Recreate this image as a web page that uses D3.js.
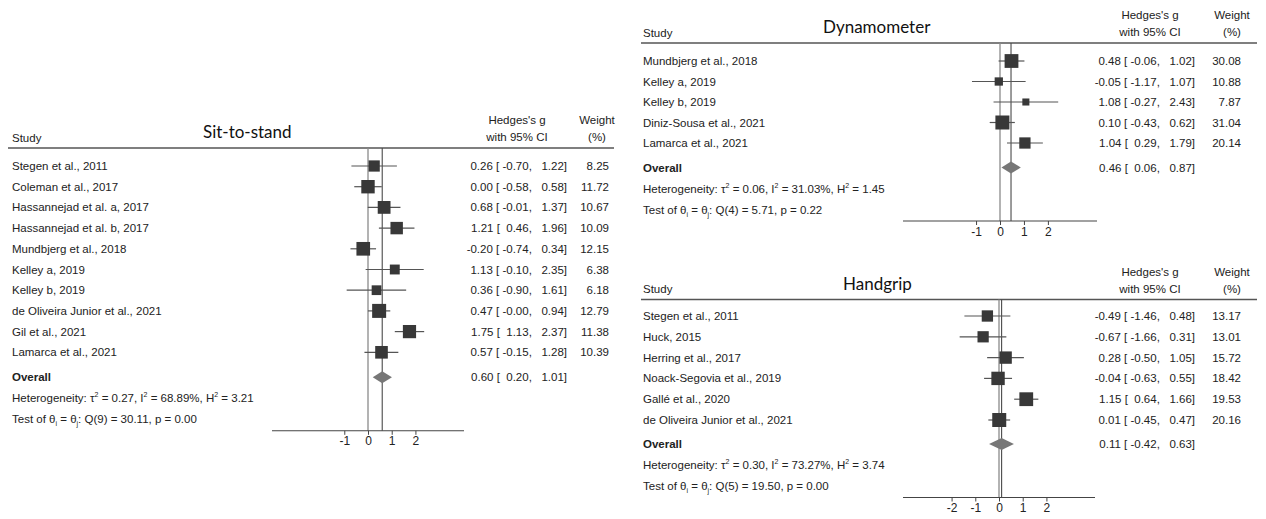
<!DOCTYPE html>
<html>
<head>
<meta charset="utf-8">
<script src="https://cdn.jsdelivr.net/npm/d3@7"></script>
<style>
  html, body { margin: 0; padding: 0; background: #fff; }
  svg { display: block; }
  text { font-family: "Liberation Sans", Arial, sans-serif; fill: #222; }
  .title { font-family: Lato, "Open Sans", sans-serif; font-size: 17px; fill: #111; }
</style>
</head>
<body>
<svg id="chart" width="1266" height="519"></svg>
<script>
// ---- Sit-to-stand ----
const sitStudies = ["Stegen et al., 2011", "Coleman et al., 2017", "Hassannejad et al. a, 2017",
  "Hassannejad et al. b, 2017", "Mundbjerg et al., 2018", "Kelley a, 2019", "Kelley b, 2019",
  "de Oliveira Junior et al., 2021", "Gil et al., 2021", "Lamarca et al., 2021"];
const sitEst = [0.26, 0.00, 0.68, 1.21, -0.20, 1.13, 0.36, 0.47, 1.75, 0.57];
const sitLo = [-0.70, -0.58, -0.01, 0.46, -0.74, -0.10, -0.90, -0.003, 1.13, -0.15];
const sitHi = [1.22, 0.58, 1.37, 1.96, 0.34, 2.35, 1.61, 0.94, 2.37, 1.28];
const sitWeight = [8.25, 11.72, 10.67, 10.09, 12.15, 6.38, 6.18, 12.79, 11.38, 10.39];
const sitOverall = [0.60, 0.20, 1.01];
const sitHet = ["0.27", "68.89%", "3.21"];
const sitTest = ["9", "30.11", "0.00"];
const sitTicks = [-1, 0, 1, 2];

// ---- Dynamometer ----
const dynStudies = ["Mundbjerg et al., 2018", "Kelley a, 2019", "Kelley b, 2019",
  "Diniz-Sousa et al., 2021", "Lamarca et al., 2021"];
const dynEst = [0.48, -0.05, 1.08, 0.10, 1.04];
const dynLo = [-0.06, -1.17, -0.27, -0.43, 0.29];
const dynHi = [1.02, 1.07, 2.43, 0.62, 1.79];
const dynWeight = [30.08, 10.88, 7.87, 31.04, 20.14];
const dynOverall = [0.46, 0.06, 0.87];
const dynHet = ["0.06", "31.03%", "1.45"];
const dynTest = ["4", "5.71", "0.22"];
const dynTicks = [-1, 0, 1, 2];

// ---- Handgrip ----
const hgStudies = ["Stegen et al., 2011", "Huck, 2015", "Herring et al., 2017",
  "Noack-Segovia et al., 2019", "Gallé et al., 2020", "de Oliveira Junior et al., 2021"];
const hgEst = [-0.49, -0.67, 0.28, -0.04, 1.15, 0.01];
const hgLo = [-1.46, -1.66, -0.50, -0.63, 0.64, -0.45];
const hgHi = [0.48, 0.31, 1.05, 0.55, 1.66, 0.47];
const hgWeight = [13.17, 13.01, 15.72, 18.42, 19.53, 20.16];
const hgOverall = [0.11, -0.42, 0.63];
const hgHet = ["0.30", "73.27%", "3.74"];
const hgTest = ["5", "19.50", "0.00"];
const hgTicks = [-2, -1, 0, 1, 2];

const svg = d3.select("#chart");
const fmt = v => v.toFixed(2);
const ciText = (e, l, h) => `${fmt(e)} [${l < 0 || Object.is(l, -0) ? " " : "  "}${fmt(l)}, ${h < 0 ? " " : "  "}${fmt(h)}]`;

function drawPanel(p) {
  const g = svg.append("g");
  const n = p.studies.length;
  const rowY = i => p.firstRow + i * p.rowStep;
  const overallY = rowY(n - 1) + p.overallGap;
  const hetY = overallY + 21, testY = overallY + 42, axisY = overallY + 53.5;

  const x = d3.scaleLinear().domain([-4.05, 4.05]).range([p.axisLeft, p.axisRight]);
  const box = d3.scaleSqrt().domain([0, d3.max(p.weight)]).range([0, 14]);

  // headers
  g.append("text").attr("class", "title").attr("x", p.titleX).attr("y", p.headerLine - 15.5)
    .attr("dy", "0.35em").text(p.title);
  g.append("text").attr("x", p.textX).attr("y", p.headerLine - 10.5).attr("dy", "0.35em")
    .style("font-size", "11.5px").text("Study");
  g.append("text").attr("x", p.ciX).attr("y", p.headerLine - 28).attr("dy", "0.35em")
    .attr("text-anchor", "middle").style("font-size", "11.5px").text("Hedges's g");
  g.append("text").attr("x", p.ciX).attr("y", p.headerLine - 11).attr("dy", "0.35em")
    .attr("text-anchor", "middle").style("font-size", "11.5px").text("with 95% CI");
  g.append("text").attr("x", p.wX).attr("y", p.headerLine - 28).attr("dy", "0.35em")
    .attr("text-anchor", "middle").style("font-size", "11.5px").text("Weight");
  g.append("text").attr("x", p.wX).attr("y", p.headerLine - 11).attr("dy", "0.35em")
    .attr("text-anchor", "middle").style("font-size", "11.5px").text("(%)");
  g.append("line").attr("x1", p.lineLeft).attr("x2", p.lineRight)
    .attr("y1", p.headerLine).attr("y2", p.headerLine)
    .attr("stroke", "#555").attr("stroke-width", 1.6);

  // reference lines: zero and overall effect
  g.append("line").attr("x1", x(0)).attr("x2", x(0)).attr("y1", p.headerLine).attr("y2", axisY)
    .attr("stroke", "#8a8a8a").attr("stroke-width", 1.3);
  g.append("line").attr("x1", x(p.overall[0])).attr("x2", x(p.overall[0]))
    .attr("y1", p.headerLine).attr("y2", axisY)
    .attr("stroke", "#4a4a4a").attr("stroke-width", 1.1);

  // study rows
  const rows = g.selectAll("g.row").data(p.studies.map((s, i) => ({
    s, e: p.est[i], l: p.lo[i], h: p.hi[i], w: p.weight[i], y: rowY(i)
  }))).join("g").attr("class", "row");
  rows.append("text").attr("x", p.textX).attr("y", d => d.y).attr("dy", "0.35em")
    .style("font-size", "11.5px").text(d => d.s);
  rows.append("line").attr("x1", d => x(d.l)).attr("x2", d => x(d.h))
    .attr("y1", d => d.y).attr("y2", d => d.y).attr("stroke", "#555").attr("stroke-width", 1.2);
  rows.append("rect")
    .attr("x", d => x(d.e) - box(d.w) / 2).attr("y", d => d.y - box(d.w) / 2)
    .attr("width", d => box(d.w)).attr("height", d => box(d.w)).attr("fill", "#383838");
  rows.append("text").attr("x", p.ciRight).attr("y", d => d.y).attr("dy", "0.35em")
    .attr("text-anchor", "end").style("font-size", "11.5px").style("white-space", "pre")
    .attr("xml:space", "preserve").text(d => ciText(d.e, d.l, d.h));
  rows.append("text").attr("x", p.wRight).attr("y", d => d.y).attr("dy", "0.35em")
    .attr("text-anchor", "end").style("font-size", "11.5px").text(d => fmt(d.w));

  // overall
  g.append("text").attr("x", p.textX).attr("y", overallY).attr("dy", "0.35em")
    .style("font-size", "11.5px").style("font-weight", "bold").text("Overall");
  const [oe, ol, oh] = p.overall;
  g.append("path")
    .attr("d", `M${x(ol)},${overallY} L${x(oe)},${overallY - 6} L${x(oh)},${overallY} L${x(oe)},${overallY + 6} Z`)
    .attr("fill", "#777");
  g.append("text").attr("x", p.ciRight).attr("y", overallY).attr("dy", "0.35em")
    .attr("text-anchor", "end").style("font-size", "11.5px").attr("xml:space", "preserve")
    .text(ciText(oe, ol, oh));

  // heterogeneity
  const het = g.append("text").attr("x", p.textX).attr("y", hetY).attr("dy", "0.35em")
    .style("font-size", "11.5px");
  het.append("tspan").text("Heterogeneity: τ");
  het.append("tspan").attr("dy", -5).style("font-size", "7px").text("2");
  het.append("tspan").attr("dy", 5).text(` = ${p.het[0]}, I`);
  het.append("tspan").attr("dy", -5).style("font-size", "7px").text("2");
  het.append("tspan").attr("dy", 5).text(` = ${p.het[1]}, H`);
  het.append("tspan").attr("dy", -5).style("font-size", "7px").text("2");
  het.append("tspan").attr("dy", 5).text(` = ${p.het[2]}`);

  const test = g.append("text").attr("x", p.textX).attr("y", testY).attr("dy", "0.35em")
    .style("font-size", "11.5px");
  test.append("tspan").text("Test of θ");
  test.append("tspan").attr("dy", 3).style("font-size", "7px").text("i");
  test.append("tspan").attr("dy", -3).text(" = θ");
  test.append("tspan").attr("dy", 3).style("font-size", "7px").text("j");
  test.append("tspan").attr("dy", -3).text(`: Q(${p.test[0]}) = ${p.test[1]}, p = ${p.test[2]}`);

  // x axis
  const axis = g.append("g").attr("transform", `translate(0,${axisY})`)
    .call(d3.axisBottom(x).tickValues(p.ticks).tickFormat(d3.format("d")).tickSize(4).tickPadding(2));
  axis.select(".domain").attr("stroke", "#444").attr("stroke-width", 1.1).attr("d", `M${p.axisLeft},0H${p.axisRight}`);
  axis.selectAll(".tick line").attr("stroke", "#444");
  axis.selectAll(".tick text").style("font-size", "12px").style("font-family", "'Liberation Sans', Arial, sans-serif")
    .attr("fill", "#222").text(d => d < 0 ? "-" + Math.abs(d) : d);
}

drawPanel({
  title: "Sit-to-stand", titleX: 203, textX: 12, headerLine: 148, lineLeft: 8, lineRight: 614,
  firstRow: 166, rowStep: 20.7, overallGap: 25, axisLeft: 272, axisRight: 464,
  ciX: 517, wX: 597, ciRight: 567, wRight: 609,
  studies: sitStudies, est: sitEst, lo: sitLo, hi: sitHi, weight: sitWeight,
  overall: sitOverall, het: sitHet, test: sitTest, ticks: sitTicks
});
drawPanel({
  title: "Dynamometer", titleX: 823, textX: 643, headerLine: 43, lineLeft: 641, lineRight: 1257,
  firstRow: 61, rowStep: 20.5, overallGap: 24.5, axisLeft: 903, axisRight: 1097,
  ciX: 1150, wX: 1232, ciRight: 1195, wRight: 1241,
  studies: dynStudies, est: dynEst, lo: dynLo, hi: dynHi, weight: dynWeight,
  overall: dynOverall, het: dynHet, test: dynTest, ticks: dynTicks
});
drawPanel({
  title: "Handgrip", titleX: 843, textX: 643, headerLine: 299.5, lineLeft: 641, lineRight: 1257,
  firstRow: 316, rowStep: 20.8, overallGap: 24, axisLeft: 903, axisRight: 1095,
  ciX: 1150, wX: 1232, ciRight: 1195, wRight: 1241,
  studies: hgStudies, est: hgEst, lo: hgLo, hi: hgHi, weight: hgWeight,
  overall: hgOverall, het: hgHet, test: hgTest, ticks: hgTicks
});
</script>
</body>
</html>
